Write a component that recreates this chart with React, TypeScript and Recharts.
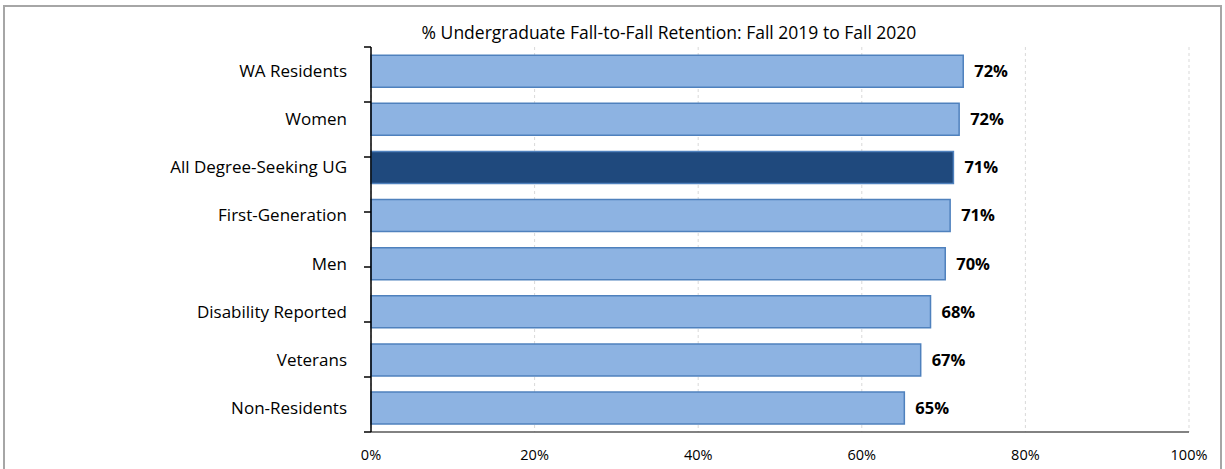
import { Bar, BarChart, CartesianGrid, Cell, LabelList, XAxis, YAxis } from 'recharts';

const CATEGORIES = [
  'WA Residents',
  'Women',
  'All Degree-Seeking UG',
  'First-Generation',
  'Men',
  'Disability Reported',
  'Veterans',
  'Non-Residents',
];
const RETENTION = [72.4, 71.9, 71.2, 70.8, 70.2, 68.4, 67.2, 65.2];
const HIGHLIGHT = 'All Degree-Seeking UG';
const X_TICKS = [0, 20, 40, 60, 80, 100];
const EDGE_TICKS = [0, 1, 2, 3, 4, 5, 6, 7, 8];

const TITLE = '% Undergraduate Fall-to-Fall Retention: Fall 2019 to Fall 2020';
const FONT = '"Open Sans", Lato, sans-serif';

const data = CATEGORIES.map((name, i) => ({ name, value: RETENTION[i] }));

export default function App(): JSX.Element {
  return (
    <div style={{ position: 'absolute', left: 0, top: 0, width: 1225, height: 469, background: '#fff', overflow: 'hidden', fontFamily: FONT }}>
      <div
        style={{
          position: 'absolute',
          left: 3,
          top: 5,
          width: 1215,
          height: 480,
          border: '2px solid #a6a6a6',
        }}
      />
      <div
        style={{
          position: 'absolute',
          left: 169,
          width: 1000,
          top: 20,
          textAlign: 'center',
          fontSize: 17.5,
          color: '#000',
        }}
      >
        {TITLE}
      </div>
      <div style={{ position: 'absolute', left: 0, top: 0 }}>
        <BarChart
          data={data}
          height={469}
          layout="vertical"
          margin={{ top: 47, right: 36, bottom: 7, left: 0 }}
          width={1225}
          barCategoryGap="17%"
        >
          <CartesianGrid horizontal={false} stroke="#d9d9d9" strokeDasharray="3 3" />
          <XAxis
            axisLine={{ stroke: '#595959', strokeWidth: 1.5 }}
            domain={[0, 100]}
            height={30}
            tick={{ fill: '#000', fontSize: 14.5, fontFamily: FONT }}
            tickFormatter={(v: number) => `${v}%`}
            tickLine={false}
            tickMargin={12}
            ticks={X_TICKS}
            type="number"
          />
          <YAxis
            axisLine={false}
            dataKey="name"
            tick={{ fill: '#000', fontSize: 17, fontFamily: FONT }}
            tickLine={false}
            tickMargin={24}
            tickSize={0}
            type="category"
            width={371}
          />
          {/* boundary tick marks between categories */}
          <YAxis
            axisLine={{ stroke: '#000', strokeWidth: 1.5 }}
            domain={[0, 8]}
            interval={0}
            mirror
            tick={{ fontSize: 1, fill: 'none' }}
            tickFormatter={() => ''}
            tickLine={{ stroke: '#000', strokeWidth: 1.5 }}
            tickSize={-7}
            ticks={EDGE_TICKS}
            type="number"
            width={1}
            yAxisId="edge"
          />
          <Bar dataKey="value" isAnimationActive={false} stroke="#4f81bd" strokeWidth={1.5}>
            {data.map((entry) => (
              <Cell key={entry.name} fill={entry.name === HIGHLIGHT ? '#1f497d' : '#8db3e2'} />
            ))}
            <LabelList
              dataKey="value"
              fill="#000"
              fontFamily={FONT}
              fontSize={16.5}
              fontWeight="bold"
              formatter={(v: number) => `${Math.round(v)}%`}
              offset={11}
              position="right"
            />
          </Bar>
        </BarChart>
      </div>
    </div>
  );
}
